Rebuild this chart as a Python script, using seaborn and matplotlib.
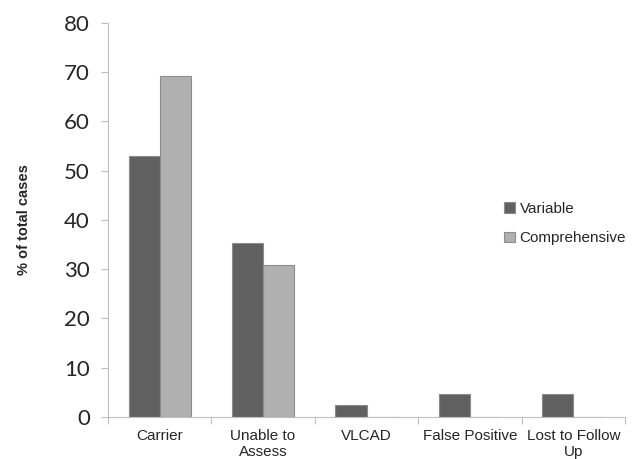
import numpy as np
import pandas as pd
import matplotlib
matplotlib.use('Agg')
import matplotlib.pyplot as plt
import seaborn as sns

# --- Data ---
categories = ['Carrier', 'Unable to\nAssess', 'VLCAD', 'False Positive', 'Lost to Follow\nUp']
variable = [52.9, 35.3, 2.4, 4.7, 4.7]
comprehensive = [69.2, 30.8, 0.0, 0.0, 0.0]
series_names = ['Variable', 'Comprehensive']

df = pd.DataFrame({
    'category': categories * 2,
    'value': variable + comprehensive,
    'series': [series_names[0]] * len(categories) + [series_names[1]] * len(categories),
})

sns.set_style('white')
plt.rcParams['font.family'] = ['Liberation Sans', 'DejaVu Sans']

fig = plt.figure(figsize=(6.38, 4.59), dpi=100)
ax = fig.add_axes([0.169, 0.092, 0.811, 0.858])

palette = {'Variable': '#606060', 'Comprehensive': '#b0b0b0'}
sns.barplot(data=df, x='category', y='value', hue='series', order=categories,
            hue_order=series_names, palette=palette, width=0.6, saturation=1,
            edgecolor='#8c8c8c', linewidth=0.8, ax=ax)

ax.set_ylim(0, 80)
ax.set_xlim(-0.5, len(categories) - 0.5)
ax.set_yticks(np.arange(0, 81, 10))
ax.set_yticklabels([str(v) for v in range(0, 81, 10)], fontsize=16, family=['Lato', 'DejaVu Sans'])
ax.tick_params(axis='y', length=5, width=0.8, color='#bfbfbf', pad=8, left=True)

# category labels at centres, tick marks at the boundaries
ax.set_xticks(range(len(categories)))
ax.set_xticklabels(categories, fontsize=11)
ax.tick_params(axis='x', which='major', length=0, pad=9)
ax.set_xticks(np.arange(-0.5, len(categories)), minor=True)
ax.tick_params(axis='x', which='minor', length=5, width=0.8, color='#bfbfbf', bottom=True)

for side in ['top', 'right']:
    ax.spines[side].set_visible(False)
for side in ['left', 'bottom']:
    ax.spines[side].set_color('#bfbfbf')
    ax.spines[side].set_linewidth(0.8)

ax.set_xlabel('')
ax.set_ylabel('% of total cases', fontsize=10.5, fontweight='bold', labelpad=24)

leg = ax.legend(loc='center left', bbox_to_anchor=(0.74, 0.49), frameon=False,
                fontsize=11, handlelength=0.7, handleheight=0.7, handletextpad=0.3,
                labelspacing=1.0)

plt.savefig('out.png', dpi=100)
